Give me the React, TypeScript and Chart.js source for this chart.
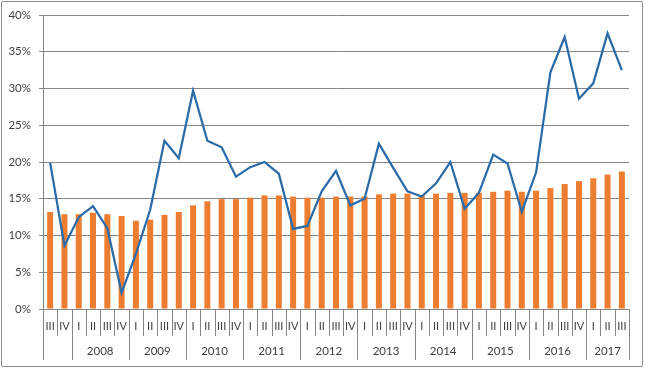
import React, { useEffect, useRef } from "react";
import { Chart, registerables } from "chart.js";

Chart.register(...registerables);

// Categories: quarters from 2007 III to 2017 III
const quarterLabels: string[] = [
  "III", "IV",
  "I", "II", "III", "IV",
  "I", "II", "III", "IV",
  "I", "II", "III", "IV",
  "I", "II", "III", "IV",
  "I", "II", "III", "IV",
  "I", "II", "III", "IV",
  "I", "II", "III", "IV",
  "I", "II", "III", "IV",
  "I", "II", "III", "IV",
  "I", "II", "III",
];

const quarterYears: number[] = [
  2007, 2007,
  2008, 2008, 2008, 2008,
  2009, 2009, 2009, 2009,
  2010, 2010, 2010, 2010,
  2011, 2011, 2011, 2011,
  2012, 2012, 2012, 2012,
  2013, 2013, 2013, 2013,
  2014, 2014, 2014, 2014,
  2015, 2015, 2015, 2015,
  2016, 2016, 2016, 2016,
  2017, 2017, 2017,
];

// Years shown as group labels (2007 has no label in the reference)
const yearLabels: string[] = ["2008", "2009", "2010", "2011", "2012", "2013", "2014", "2015", "2016", "2017"];

// Bar series (percent)
const barValues: number[] = [
  13.2, 12.9,
  12.9, 13.1, 12.9, 12.65,
  12.0, 12.15, 12.8, 13.2,
  14.1, 14.65, 14.95, 14.95,
  15.15, 15.45, 15.45, 15.3,
  15.15, 15.15, 15.3, 15.3,
  15.3, 15.6, 15.7, 15.7,
  15.5, 15.7, 15.8, 15.8,
  15.8, 15.95, 16.1, 15.95,
  16.1, 16.45, 17.0, 17.4,
  17.8, 18.3, 18.7,
];

// Line series (percent)
const lineValues: number[] = [
  19.9, 8.6,
  12.5, 14.0, 11.0, 2.2,
  7.5, 13.5, 22.9, 20.5,
  29.7, 22.9, 22.0, 18.0,
  19.3, 20.0, 18.4, 10.9,
  11.3, 16.0, 18.8, 14.1,
  15.0, 22.5, 19.2, 16.0,
  15.3, 17.1, 20.0, 13.65,
  15.8, 21.0, 19.8, 13.2,
  18.6, 32.2, 37.0, 28.6,
  30.7, 37.5, 32.5,
];

const yMin = 0;
const yMax = 40;
const yStep = 5;

const GRID = "#868686";
const TEXT = "#404040";
const FONT = "Lato, 'Liberation Sans', sans-serif";

// centres (in category index units) of each labelled year
function yearCenters(): { value: number; label: string }[] {
  return yearLabels.map((y) => {
    const yr = Number(y);
    const idx = quarterYears.map((q, i) => (q === yr ? i : -1)).filter((i) => i >= 0);
    return { value: (idx[0] + idx[idx.length - 1]) / 2, label: y };
  });
}

const separatorPlugin = {
  id: "separators",
  afterDraw(chart: any) {
    const xs = chart.scales.x;
    const area = chart.chartArea;
    const ctx = chart.ctx;
    const n = quarterLabels.length;
    const w = xs.getPixelForValue(1) - xs.getPixelForValue(0);
    ctx.save();
    ctx.strokeStyle = GRID;
    ctx.lineWidth = 1;
    for (let i = 0; i <= n; i++) {
      const x = i < n ? xs.getPixelForValue(i) - w / 2 : xs.getPixelForValue(n - 1) + w / 2;
      const isYear = i === 0 || i === n || quarterYears[i] !== quarterYears[i - 1];
      const bottom = area.bottom + (isYear ? 51 : 27);
      const px = Math.round(x) + 0.5;
      ctx.beginPath();
      ctx.moveTo(px, area.bottom);
      ctx.lineTo(px, bottom);
      ctx.stroke();
    }
    ctx.restore();
  },
};

export default function App() {
  const ref = useRef<HTMLCanvasElement | null>(null);

  useEffect(() => {
    if (!ref.current) return;
    const centers = yearCenters();
    const chart = new Chart(ref.current, {
      type: "bar",
      data: {
        labels: quarterLabels,
        datasets: [
          {
            type: "line",
            label: "Line",
            data: lineValues,
            borderColor: "#2B6CA8",
            backgroundColor: "#2B6CA8",
            borderWidth: 2.25,
            pointRadius: 0,
            tension: 0,
            order: 0,
          } as any,
          {
            type: "bar",
            label: "Bars",
            data: barValues,
            backgroundColor: "#ED7D31",
            barPercentage: 0.42,
            categoryPercentage: 1,
            order: 1,
          },
        ],
      },
      options: {
        responsive: false,
        animation: false,
        maintainAspectRatio: false,
        layout: { padding: { top: 15, right: 16, bottom: 0, left: 0 } },
        plugins: { legend: { display: false }, tooltip: { enabled: false } },
        scales: {
          x: {
            type: "category",
            position: "bottom",
            weight: 0,
            offset: true,
            grid: { display: false, drawTicks: false },
            border: { display: true, color: GRID, width: 1 },
            ticks: {
              autoSkip: false,
              maxRotation: 0,
              minRotation: 0,
              padding: 11,
              color: TEXT,
              font: { family: FONT, size: 11 },
            },
            afterFit: (s: any) => {
              s.height = 27;
            },
          },
          x2: {
            type: "linear",
            position: "bottom",
            weight: 1,
            offset: false,
            min: -0.5,
            max: quarterLabels.length - 0.5,
            grid: { display: false, drawTicks: false, offset: false },
            border: { display: false },
            ticks: {
              autoSkip: false,
              maxRotation: 0,
              padding: 8,
              color: TEXT,
              font: { family: FONT, size: 11.5 },
              callback: (v: any) => {
                const c = centers.find((k) => Math.abs(k.value - Number(v)) < 1e-6);
                return c ? c.label : "";
              },
            },
            afterBuildTicks: (s: any) => {
              s.ticks = centers.map((c) => ({ value: c.value }));
            },
            afterFit: (s: any) => {
              s.height = 32;
            },
          },
          y: {
            min: yMin,
            max: yMax,
            grid: { color: GRID, lineWidth: 1, tickLength: 4, drawTicks: true },
            border: { display: true, color: GRID, width: 1 },
            ticks: {
              stepSize: yStep,
              padding: 8,
              color: TEXT,
              font: { family: FONT, size: 11.5 },
              callback: (v: any) => `${v}%`,
            },
            afterFit: (s: any) => {
              s.width = 43;
            },
          },
        },
      },
      plugins: [separatorPlugin],
    });
    return () => chart.destroy();
  }, []);

  return (
    <div style={{ position: "fixed", left: 0, top: 0, width: 645, height: 368, background: "#fff" }}>
      <div
        style={{
          position: "absolute",
          left: 1,
          top: 1,
          width: 642,
          height: 366,
          border: "1px solid #8c8c8c",
          boxSizing: "border-box",
          borderRadius: 2,
        }}
      />
      <canvas ref={ref} width={645} height={368} style={{ position: "absolute", left: 0, top: 0 }} />
    </div>
  );
}
